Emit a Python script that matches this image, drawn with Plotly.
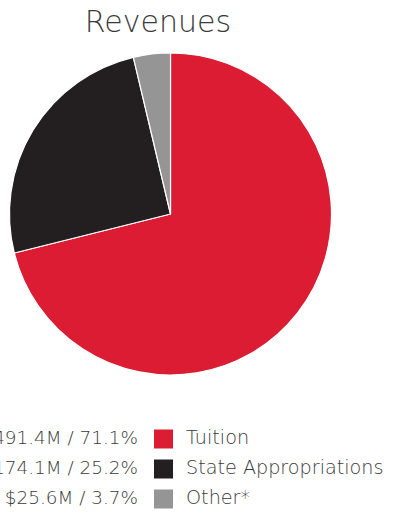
import plotly.graph_objects as go

# Revenue breakdown
categories = ["Tuition", "State Appropriations", "Other*"]
amounts_m = [491.4, 174.1, 25.6]
shares_pct = [71.1, 25.2, 3.7]
colors = ["#DC1C33", "#231F20", "#959595"]

value_labels = [f"${a:.1f}M / {p:.1f}%" for a, p in zip(amounts_m, shares_pct)]
rows = list(range(len(categories)))

W, H = 393, 514
text_color = "#3a3a3a"
font_family = "'DejaVu Sans', sans-serif"

fig = go.Figure()

fig.add_trace(go.Pie(
    labels=categories,
    values=amounts_m,
    marker=dict(colors=colors, line=dict(color="white", width=1.2)),
    sort=False,
    direction="clockwise",
    rotation=0,
    textinfo="none",
    hoverinfo="label+value+percent",
    showlegend=False,
    domain=dict(x=[9.5 / W, 331.5 / W], y=[1 - 375 / H, 1 - 53 / H]),
))

# Legend swatches
fig.add_trace(go.Scatter(
    x=[163.5] * len(categories), y=rows,
    mode="markers",
    marker=dict(symbol="square", size=19, color=colors, line=dict(width=0)),
    hoverinfo="skip", showlegend=False,
    xaxis="x", yaxis="y",
))
# Category names
fig.add_trace(go.Scatter(
    x=[186] * len(categories), y=rows,
    mode="text", text=categories, textposition="middle right",
    textfont=dict(size=19.2, color=text_color, family=font_family, weight=300),
    hoverinfo="skip", showlegend=False,
))
# Amount / share labels
fig.add_trace(go.Scatter(
    x=[138] * len(categories), y=rows,
    mode="text", text=value_labels, textposition="middle left",
    textfont=dict(size=18.4, color=text_color, family=font_family, weight=300),
    hoverinfo="skip", showlegend=False,
))

fig.update_layout(
    width=W, height=H,
    margin=dict(l=0, r=0, t=0, b=0),
    paper_bgcolor="white", plot_bgcolor="rgba(0,0,0,0)",
    title=dict(
        text="Revenues",
        x=158 / W, xanchor="center",
        y=1 - 21 / H, yanchor="middle",
        font=dict(size=30, color=text_color, family=font_family, weight=300),
    ),
    xaxis=dict(range=[0, W], domain=[0, 1], visible=False, fixedrange=True),
    yaxis=dict(range=[2.5, -0.5], domain=[0, 1 - 424 / H], visible=False, fixedrange=True),
)

fig.write_html("out.html")
